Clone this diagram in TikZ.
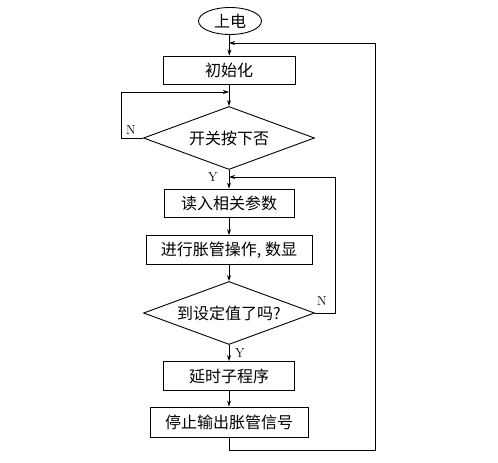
\documentclass[tikz,border=0pt]{standalone}
\usepackage{fontspec}
\newfontfamily\cjk{Noto Sans CJK SC}
\usetikzlibrary{arrows.meta, shapes.geometric, calc}
\tikzset{
  proc/.style     = {draw, rectangle, minimum height=28pt, inner sep=2pt,
                     font=\cjk\fontsize{16}{18}\selectfont},
  decide/.style   = {draw, diamond, aspect=2.7, minimum width=171pt, minimum height=63pt,
                     inner sep=0pt, font=\cjk\fontsize{16}{18}\selectfont},
  term/.style     = {draw, ellipse, minimum width=63pt, minimum height=27pt,
                     inner sep=0pt, font=\cjk\fontsize{16}{18}\selectfont},
  arrow/.style    = {-{Stealth[length=6pt, width=4pt]}, line width=0.9pt},
  yn/.style       = {font=\fontsize{13}{15}\selectfont, inner sep=1pt},
}
\begin{document}
\begin{tikzpicture}[x=1pt, y=-1pt, line width=0.9pt]
  \useasboundingbox (0,0) rectangle (498,463);
  % main column
  \node[term] (start) at (230,21) {上电};
  \node[proc, minimum width=132pt] (init) at (229,70) {初始化};
  \node[decide] (sw) at (229,138) {开关按下否};
  \node[proc, minimum width=130pt] (read) at (229,203) {读入相关参数};
  \node[proc, minimum width=166pt, minimum height=29pt] (op) at (229,250) {进行胀管操作, 数显};
  \node[decide] (chk) at (229,313) {到设定值了吗?};
  \node[proc, minimum width=131pt, minimum height=29pt] (delay) at (229,376) {延时子程序};
  \node[proc, minimum width=158pt, minimum height=30pt] (stop) at (229,422) {停止输出胀管信号};
  % junctions and corners
  \coordinate (j1) at (229,43);
  \coordinate (j2) at (229,92);
  \coordinate (j3) at (229,177);
  \coordinate (lc) at (121,92);
  \coordinate (rc) at (335,177);
  \coordinate (rb) at (375,450);
  % flow
  \draw[arrow] (start) -- (init);
  \draw[arrow] (init) -- (sw);
  \draw[arrow] (sw) -- (read);
  \draw[arrow] (read) -- (op);
  \draw[arrow] (op) -- (chk);
  \draw[arrow] (chk) -- (delay);
  \draw[arrow] (delay) -- (stop);
  % loops
  \draw[arrow] (sw.west) -| (lc) -- (j2);
  \draw[arrow] (chk.east) -| (rc) -- (j3);
  \draw[arrow] (stop.south) |- (rb) |- (j1);
  % labels
  \node[yn] (n1) at (131,130) {N};
  \node[yn] (y1) at (213,177) {Y};
  \node[yn] (n2) at (322,301) {N};
  \node[yn] (y2) at (240,353) {Y};
\end{tikzpicture}
\end{document}
